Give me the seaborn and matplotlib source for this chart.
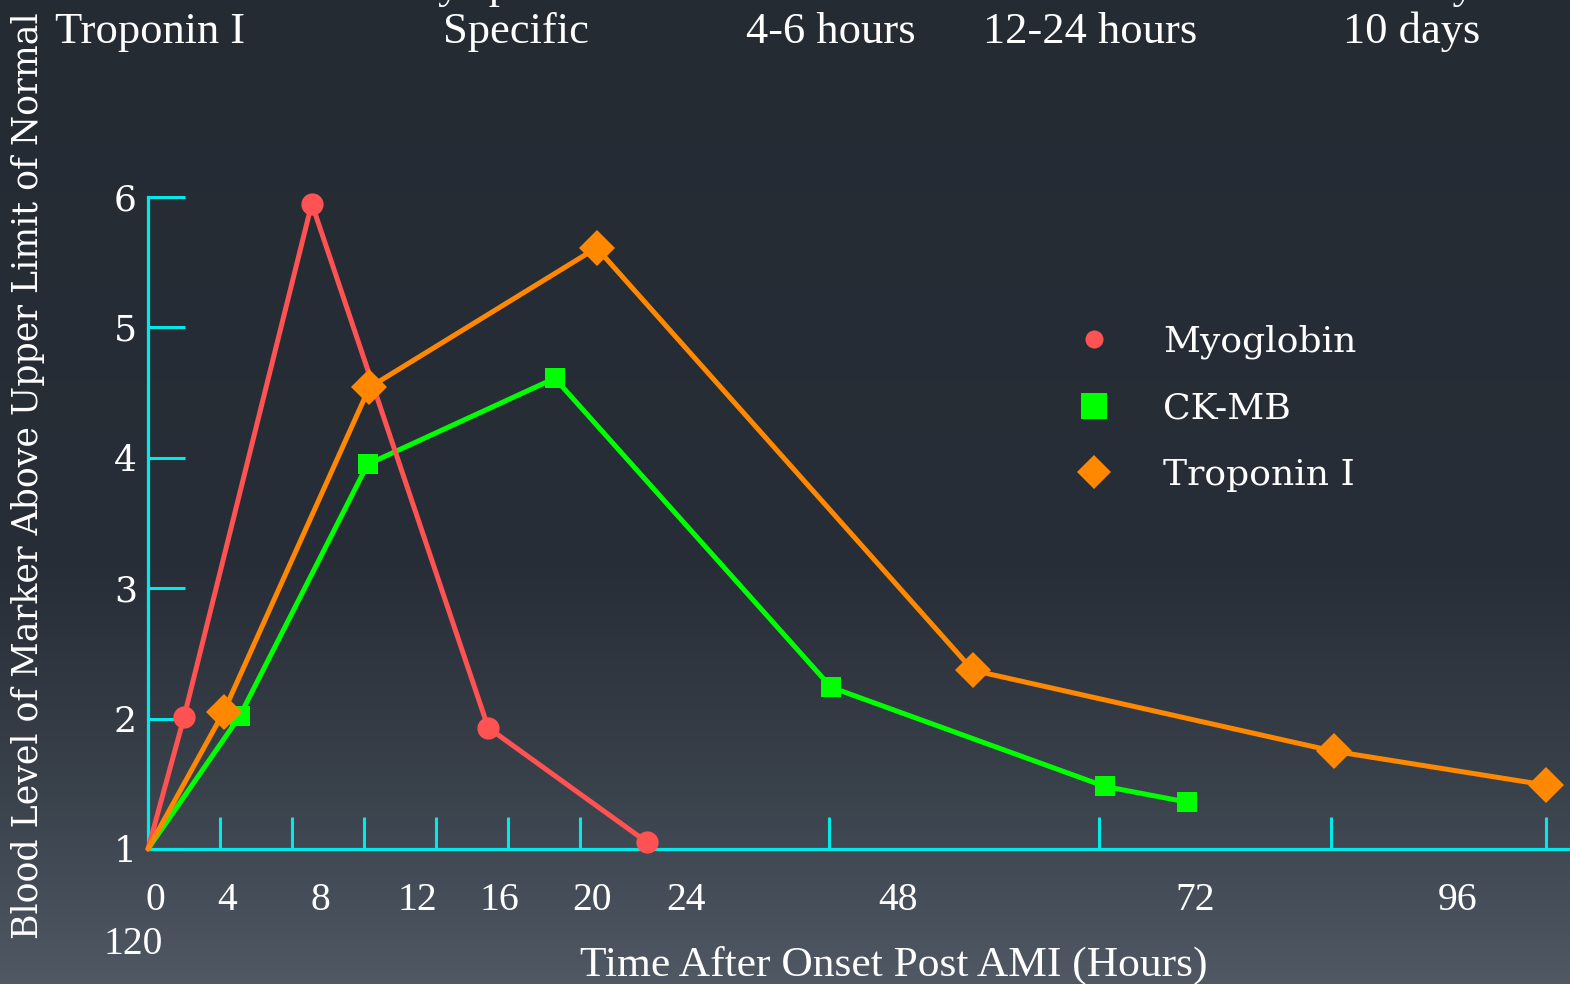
import numpy as np
import pandas as pd
import matplotlib
matplotlib.use("Agg")
import matplotlib.pyplot as plt
from matplotlib.colors import LinearSegmentedColormap
from matplotlib.lines import Line2D
import seaborn as sns

# ---- data: marker level (x upper limit of normal) vs hours after AMI onset ----
MYO_HOURS = [0, 2.0, 9.1, 18.9, 30.5]
MYO_LEVEL = [1.0, 2.01, 5.95, 1.93, 1.05]

CKMB_HOURS = [0, 5.1, 12.2, 22.6, 48.2, 72.6, 81.1]
CKMB_LEVEL = [1.0, 2.02, 3.95, 4.61, 2.24, 1.48, 1.36]

TNI_HOURS = [0, 4.2, 12.3, 25.6, 60.8, 96.3, 120.0]
TNI_LEVEL = [1.0, 2.05, 4.54, 5.61, 2.37, 1.75, 1.49]

SERIES = ["Myoglobin", "CK-MB", "Troponin I"]
Y_TICKS = [1, 2, 3, 4, 5, 6]
X_TICKS = [4, 8, 12, 16, 20, 24, 48, 72, 96, 120]
X_TICK_LABELS = ["0", "4", "8", "12", "16", "20", "24", "48", "72", "96"]
X_EXTRA_LABEL = "120"

TABLE_ROW_PREV = ["CK-MB", "Moderately specific", "3-12 hours", "12-24 hours", "2-3 days"]
TABLE_ROW = ["Troponin I", "Specific", "4-6 hours", "12-24 hours", "10 days"]

X_LABEL = "Time After Onset Post AMI (Hours)"
Y_LABEL = "Blood Level of Marker Above Upper Limit of Normal"

frames = []
for name, hrs, lvl in [("Myoglobin", MYO_HOURS, MYO_LEVEL),
                       ("CK-MB", CKMB_HOURS, CKMB_LEVEL),
                       ("Troponin I", TNI_HOURS, TNI_LEVEL)]:
    frames.append(pd.DataFrame({"marker": name, "hours": hrs, "level": lvl}))
df = pd.concat(frames, ignore_index=True)

# ---- style ----
COLORS = {"Myoglobin": "#ff5252", "CK-MB": "#00ff00", "Troponin I": "#ff8800"}
SHAPES = {"Myoglobin": "o", "CK-MB": "s", "Troponin I": "D"}
SIZES = {"Myoglobin": 16, "CK-MB": 14.5, "Troponin I": 18}
LEGEND_SIZES = {"Myoglobin": 13, "CK-MB": 18.5, "Troponin I": 17.5}
AXIS_COLOR = "#00eaea"
TEXT_COLOR = "white"
WIDE_SERIF = "DejaVu Serif"
BOOK_SERIF = "Liberation Serif"

sns.set_theme(style="white")
plt.rcParams["font.family"] = [WIDE_SERIF, "DejaVu Sans"]

W, H = 1570, 984
fig = plt.figure(figsize=(W / 100, H / 100), dpi=100)

# slide background: dark slate fading lighter towards the bottom
bg = fig.add_axes([0, 0, 1, 1], zorder=-10)
bg_cmap = LinearSegmentedColormap.from_list(
    "slide", [(0.0, "#252b33"), (0.58, "#282e37"), (0.8, "#39414b"), (1.0, "#4f5863")])
bg.imshow(np.linspace(0, 1, 256).reshape(-1, 1), aspect="auto", cmap=bg_cmap,
          extent=[0, 1, 0, 1], origin="upper")
bg.set_axis_off()


def fx(px):
    return px / W


def fy(py):
    return 1 - py / H


ax = fig.add_axes([fx(148), fy(849), fx(1568 - 148), (849 - 197) / H])
ax.set_facecolor("none")

# time axis is stretched for the first day and compressed afterwards
HOUR_KNOTS = np.array([0, 24, 48, 72, 96, 120, 144])
AXIS_KNOTS = np.array([0, 24, 37.83, 52.83, 65.72, 77.67, 89.62])


def to_axis(h):
    return np.interp(h, HOUR_KNOTS, AXIS_KNOTS)


def to_hours(p):
    return np.interp(p, AXIS_KNOTS, HOUR_KNOTS)


ax.set_xscale("function", functions=(to_axis, to_hours))

for name in ["CK-MB", "Myoglobin", "Troponin I"]:
    sub = df[df["marker"] == name]
    sns.lineplot(data=sub, x="hours", y="level", ax=ax, color=COLORS[name],
                 linewidth=3.6, marker=SHAPES[name], markersize=SIZES[name],
                 markeredgewidth=0, markevery=slice(1, None), sort=False,
                 legend=False, clip_on=False, zorder=3)

ax.set_xlim(0, 122.45)
ax.set_ylim(1, 6)
ax.set_xlabel("")
ax.set_ylabel("")

for side in ["top", "right"]:
    ax.spines[side].set_visible(False)
for side in ["left", "bottom"]:
    ax.spines[side].set_color(AXIS_COLOR)
    ax.spines[side].set_linewidth(2.3)

ax.set_yticks(Y_TICKS)
ax.set_yticklabels([str(v) for v in Y_TICKS], fontsize=26, color=TEXT_COLOR,
                   family=WIDE_SERIF)
ax.tick_params(axis="y", direction="in", length=26.5, width=2.2, color=AXIS_COLOR,
               pad=8, left=True)
ax.set_xticks(X_TICKS)
ax.set_xticklabels([])
ax.tick_params(axis="x", direction="in", length=23, width=2.2, color=AXIS_COLOR,
               bottom=True)
ax.minorticks_off()

# hour labels under the axis
X_LABEL_PX = [155, 227, 320, 417, 499, 592, 686, 898, 1195, 1458]
for lab, px in zip(X_TICK_LABELS, X_LABEL_PX):
    fig.text(fx(px), fy(901), lab, ha="center", va="center", fontsize=28.5,
             color=TEXT_COLOR, family=BOOK_SERIF)
fig.text(fx(133), fy(944), X_EXTRA_LABEL, ha="center", va="center", fontsize=28.5,
         color=TEXT_COLOR, family=BOOK_SERIF)

fig.text(fx(894), fy(965), X_LABEL, ha="center", va="center", fontsize=31.3,
         color=TEXT_COLOR, family=BOOK_SERIF)
fig.text(fx(28), fy(476), Y_LABEL, ha="center", va="center", rotation=90,
         fontsize=25, color=TEXT_COLOR, family=WIDE_SERIF)

# table rows above the chart (the earlier row runs off the top edge)
ROW_X = [55, 443, 746, 983, 1343]
for txt, px in zip(TABLE_ROW, ROW_X):
    fig.text(fx(px), fy(43), txt, ha="left", va="baseline", fontsize=32,
             color=TEXT_COLOR, family=BOOK_SERIF)
PREV_X = [55, 255, 770, 1030, 1340]
for txt, px in zip(TABLE_ROW_PREV, PREV_X):
    fig.text(fx(px), fy(-2), txt, ha="left", va="baseline", fontsize=32,
             color=TEXT_COLOR, family=BOOK_SERIF)

handles = [Line2D([], [], linestyle="none", marker=SHAPES[n], color=COLORS[n],
                  markersize=LEGEND_SIZES[n], markeredgewidth=0) for n in SERIES]
leg = ax.legend(handles, SERIES, loc="center left",
                bbox_to_anchor=(fx(1076), fy(408)), bbox_transform=fig.transFigure,
                frameon=False, handlelength=1.0, handletextpad=1.42,
                labelspacing=0.9, borderpad=0, borderaxespad=0,
                prop={"family": WIDE_SERIF, "size": 26})
for t in leg.get_texts():
    t.set_color(TEXT_COLOR)

fig.savefig("out.png", dpi=100)
